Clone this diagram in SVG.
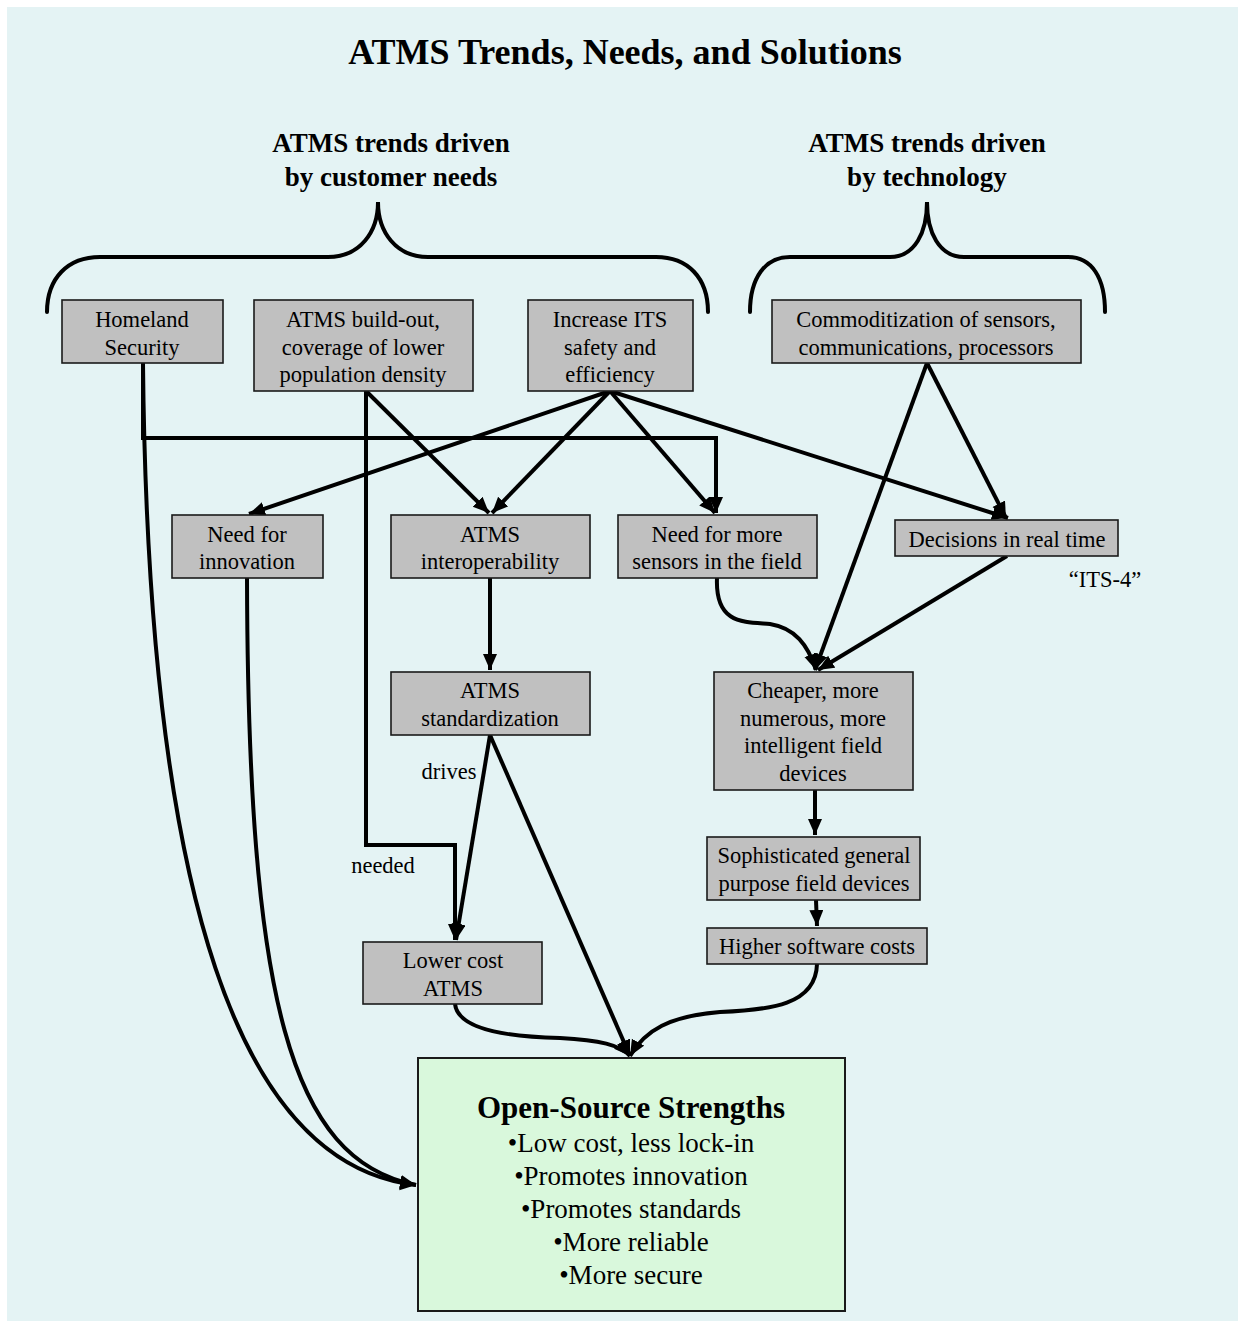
<svg xmlns="http://www.w3.org/2000/svg" width="1238" height="1321" viewBox="0 0 1238 1321">
  <defs>
    <marker id="arrow" markerUnits="userSpaceOnUse" markerWidth="18" markerHeight="16" refX="16" refY="7" orient="auto">
      <path d="M0,0 L16,7 L0,14 z" fill="#000"/>
    </marker>
    <style>
      .box { fill: #c0c0c0; stroke: #1a1a1a; stroke-width: 1.6; }
      .main { fill: #d9f8dc; stroke: #1a1a1a; stroke-width: 2; }
      .t { font-family: "Liberation Serif", "Times New Roman", serif; font-size: 22.5px; fill: #000; text-anchor: middle; }
      .h { font-family: "Liberation Serif", "Times New Roman", serif; font-weight: bold; fill: #000; text-anchor: middle; }
      .b { font-family: "Liberation Serif", "Times New Roman", serif; font-size: 27px; fill: #000; text-anchor: middle; }
      .edge { fill: none; stroke: #000; stroke-width: 4; marker-end: url(#arrow); }
      .line { fill: none; stroke: #000; stroke-width: 4; }
      .brace { fill: none; stroke: #000; stroke-width: 4; stroke-linecap: round; }
    </style>
  </defs>

  <!-- background panel -->
  <rect x="7" y="7" width="1231" height="1314" fill="#e4f3f4"/>

  <!-- headings -->
  <text class="h" x="625" y="64" font-size="36">ATMS Trends, Needs, and Solutions</text>
  <text class="h" x="391" y="152" font-size="27">ATMS trends driven</text>
  <text class="h" x="391" y="186" font-size="27">by customer needs</text>
  <text class="h" x="927" y="152" font-size="27">ATMS trends driven</text>
  <text class="h" x="927" y="186" font-size="27">by technology</text>

  <!-- braces -->
  <path class="brace" d="M47,312 C47,278 68,257 100,257 L328,257 C360,257 378,232 378,202 C378,232 396,257 428,257 L656,257 C688,257 708,278 708,312"/>
  <path class="brace" d="M750,312 C750,278 765,257 790,257 L890,257 C915,257 927,232 927,202 C927,232 939,257 964,257 L1068,257 C1092,257 1105,278 1105,312"/>

  <!-- connectors -->
  <g id="connectors">
    <!-- Homeland Security -->
    <path class="edge" d="M143,363 L143,438 L716,438 L716,513"/>
    <path class="edge" d="M143,363 C148,900 240,1165 416,1185"/>
    <!-- Need for innovation -->
    <path class="edge" d="M247,578 C248,1000 290,1160 416,1185"/>
    <!-- ATMS build-out -->
    <path class="edge" d="M366,391 L366,845 L455,845 L455,940"/>
    <path class="edge" d="M366,391 L489,513"/>
    <!-- Increase ITS safety -->
    <path class="edge" d="M610,391 L249,514"/>
    <path class="edge" d="M610,391 L492,513"/>
    <path class="edge" d="M610,391 L715,513"/>
    <path class="edge" d="M610,391 L1008,518"/>
    <!-- Commoditization -->
    <path class="edge" d="M927,363 L1006,518"/>
    <path class="edge" d="M927,363 L815,670"/>
    <!-- sensors / decisions to cheaper devices -->
    <path class="edge" d="M717,578 C715,625 745,622 770,624 C795,628 808,645 816,670"/>
    <path class="edge" d="M1007,556 L818,670"/>
    <!-- vertical chains -->
    <path class="edge" d="M490,578 L490,670"/>
    <path class="edge" d="M815,790 L815,835"/>
    <path class="edge" d="M816,900 L817,926"/>
    <!-- ATMS standardization -->
    <path class="edge" d="M490,735 L456,940"/>
    <path class="edge" d="M490,735 L630,1056"/>
    <!-- into Open-Source Strengths -->
    <path class="edge" d="M455,1004 C458,1030 510,1037 560,1038 C600,1040 620,1045 630,1056"/>
    <path class="edge" d="M817,964 C816,1005 770,1010 720,1012 C670,1016 645,1030 630,1056"/>
  </g>

  <!-- edge labels -->
  <text class="t" x="449" y="779">drives</text>
  <text class="t" x="383" y="873">needed</text>
  <text class="t" x="1105" y="587">“ITS-4”</text>

  <!-- nodes -->
  <g id="homeland">
    <rect class="box" x="62" y="300" width="161" height="63"/>
    <text class="t" x="142" y="327">Homeland</text>
    <text class="t" x="142" y="355">Security</text>
  </g>
  <g id="buildout">
    <rect class="box" x="254" y="300" width="219" height="91"/>
    <text class="t" x="363" y="327">ATMS build-out,</text>
    <text class="t" x="363" y="355">coverage of lower</text>
    <text class="t" x="363" y="382">population density</text>
  </g>
  <g id="its-safety">
    <rect class="box" x="528" y="300" width="165" height="91"/>
    <text class="t" x="610" y="327">Increase ITS</text>
    <text class="t" x="610" y="355">safety and</text>
    <text class="t" x="610" y="382">efficiency</text>
  </g>
  <g id="commoditization">
    <rect class="box" x="772" y="300" width="309" height="63"/>
    <text class="t" x="926" y="327">Commoditization of sensors,</text>
    <text class="t" x="926" y="355">communications, processors</text>
  </g>
  <g id="innovation">
    <rect class="box" x="172" y="515" width="151" height="63"/>
    <text class="t" x="247" y="542">Need for</text>
    <text class="t" x="247" y="569">innovation</text>
  </g>
  <g id="interoperability">
    <rect class="box" x="391" y="515" width="199" height="63"/>
    <text class="t" x="490" y="542">ATMS</text>
    <text class="t" x="490" y="569">interoperability</text>
  </g>
  <g id="sensors">
    <rect class="box" x="618" y="515" width="199" height="63"/>
    <text class="t" x="717" y="542">Need for more</text>
    <text class="t" x="717" y="569">sensors in the field</text>
  </g>
  <g id="realtime">
    <rect class="box" x="895" y="520" width="223" height="36"/>
    <text class="t" x="1007" y="547">Decisions in real time</text>
  </g>
  <g id="standardization">
    <rect class="box" x="391" y="672" width="199" height="63"/>
    <text class="t" x="490" y="698">ATMS</text>
    <text class="t" x="490" y="726">standardization</text>
  </g>
  <g id="field-devices">
    <rect class="box" x="714" y="672" width="199" height="118"/>
    <text class="t" x="813" y="698">Cheaper, more</text>
    <text class="t" x="813" y="726">numerous, more</text>
    <text class="t" x="813" y="753">intelligent field</text>
    <text class="t" x="813" y="781">devices</text>
  </g>
  <g id="general-purpose">
    <rect class="box" x="707" y="837" width="213" height="63"/>
    <text class="t" x="814" y="863">Sophisticated general</text>
    <text class="t" x="814" y="891">purpose field devices</text>
  </g>
  <g id="software-costs">
    <rect class="box" x="707" y="928" width="220" height="36"/>
    <text class="t" x="817" y="954">Higher software costs</text>
  </g>
  <g id="lower-cost">
    <rect class="box" x="363" y="942" width="179" height="62"/>
    <text class="t" x="453" y="968">Lower cost</text>
    <text class="t" x="453" y="996">ATMS</text>
  </g>
  <g id="open-source">
    <rect class="main" x="418" y="1058" width="427" height="253"/>
    <text class="h" x="631" y="1118" font-size="31">Open-Source Strengths</text>
    <text class="b" x="631" y="1152">•Low cost, less lock-in</text>
    <text class="b" x="631" y="1185">•Promotes innovation</text>
    <text class="b" x="631" y="1218">•Promotes standards</text>
    <text class="b" x="631" y="1251">•More reliable</text>
    <text class="b" x="631" y="1284">•More secure</text>
  </g>
</svg>
